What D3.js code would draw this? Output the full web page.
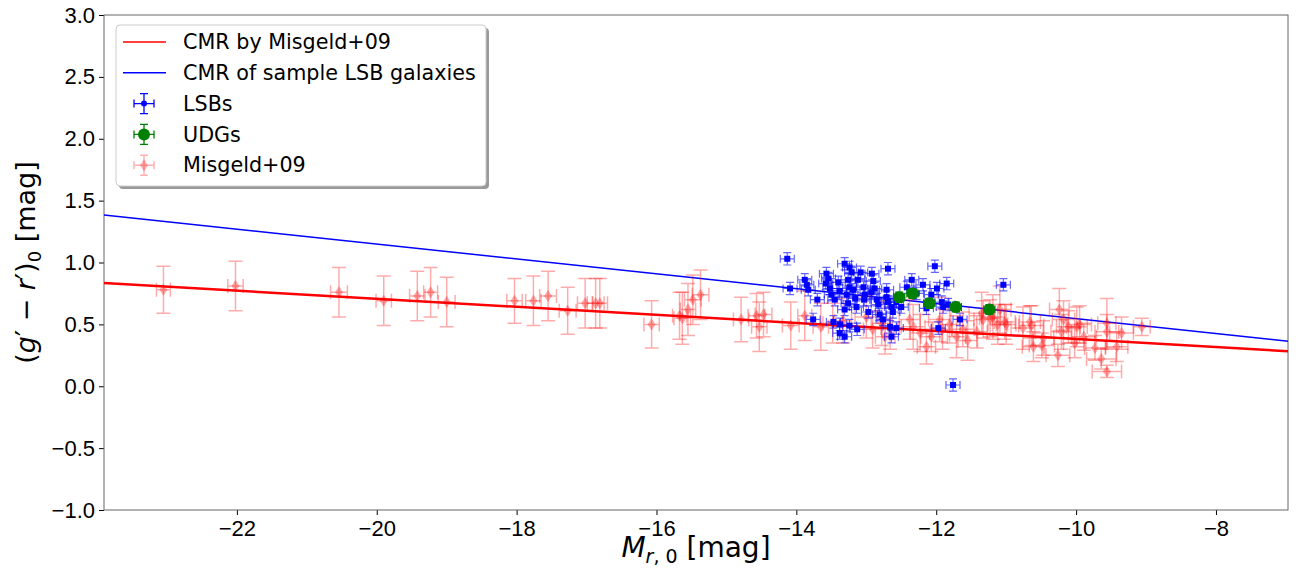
<!DOCTYPE html>
<html>
<head>
<meta charset="utf-8">
<script src="https://cdn.jsdelivr.net/npm/d3@7"></script>
<style>
  body { margin: 0; background: #fff; }
  svg { font-family: "DejaVu Sans", sans-serif; }
</style>
</head>
<body>
<svg id="chart"></svg>
<script>
var width = 1303,
  height = 568;

// Misgeld+09 sample
var misX = [-23.05, -22.02, -20.54, -19.90, -19.42, -19.23, -19.00, -18.03, -17.76, -17.55, -17.27, -17.02, -16.87, -16.81, -16.07, -15.67, -15.63, -15.55, -15.48, -15.37, -14.79, -14.57, -14.53, -14.47, -14.08, -13.88, -13.65,
  -13.48, -13.33, -13.00, -12.91, -12.78, -12.73, -12.66, -12.38, -12.33, -12.23, -12.14, -12.07, -11.95, -11.91, -11.81, -11.71, -11.62, -11.55, -11.42, -11.33, -11.19, -11.12, -11.02, -11.35, -11.23, -11.09, -11.00,
  -10.76, -10.66, -10.64, -10.61, -10.49, -10.47, -10.26, -10.24, -10.18, -10.21, -10.11, -10.02, -9.99, -9.95, -9.89, -9.73, -9.64, -9.56, -9.56, -9.56, -9.42, -9.35, -9.06];
var misY = [0.78, 0.81, 0.76, 0.69, 0.73, 0.76, 0.68, 0.69, 0.69, 0.73, 0.61, 0.67, 0.67, 0.67, 0.50, 0.57, 0.55, 0.62, 0.70, 0.74, 0.54, 0.57, 0.48, 0.58, 0.49, 0.57, 0.48,
  0.51, 0.53, 0.56, 0.46, 0.51, 0.40, 0.47, 0.54, 0.48, 0.43, 0.32, 0.40, 0.54, 0.46, 0.50, 0.40, 0.46, 0.37, 0.44, 0.54, 0.56, 0.50, 0.52, 0.59, 0.55, 0.62, 0.50,
  0.47, 0.52, 0.49, 0.32, 0.33, 0.39, 0.25, 0.62, 0.54, 0.44, 0.48, 0.35, 0.48, 0.50, 0.40, 0.31, 0.22, 0.51, 0.44, 0.12, 0.32, 0.43, 0.48];
var misXErr = [0.10, 0.11, 0.12, 0.11, 0.11, 0.10, 0.12, 0.11, 0.11, 0.12, 0.12, 0.11, 0.12, 0.11, 0.11, 0.10, 0.12, 0.11, 0.12, 0.12, 0.11, 0.12, 0.11, 0.12, 0.12, 0.10, 0.11,
  0.14, 0.12, 0.16, 0.13, 0.15, 0.14, 0.13, 0.15, 0.17, 0.14, 0.13, 0.15, 0.16, 0.14, 0.15, 0.13, 0.16, 0.14, 0.15, 0.13, 0.16, 0.14, 0.15, 0.18, 0.15, 0.16, 0.14,
  0.17, 0.15, 0.18, 0.16, 0.18, 0.15, 0.17, 0.14, 0.16, 0.15, 0.17, 0.16, 0.15, 0.17, 0.18, 0.15, 0.21, 0.13, 0.17, 0.21, 0.16, 0.17, 0.12];
var misYErr = [0.19, 0.20, 0.20, 0.20, 0.20, 0.20, 0.20, 0.18, 0.20, 0.20, 0.19, 0.20, 0.20, 0.20, 0.19, 0.19, 0.21, 0.21, 0.20, 0.20, 0.18, 0.18, 0.20, 0.18, 0.19, 0.20, 0.19,
  0.16, 0.18, 0.17, 0.15, 0.18, 0.14, 0.17, 0.16, 0.18, 0.15, 0.14, 0.12, 0.18, 0.16, 0.15, 0.17, 0.14, 0.16, 0.13, 0.15, 0.18, 0.16, 0.14, 0.17, 0.15, 0.19, 0.16,
  0.17, 0.13, 0.16, 0.12, 0.10, 0.14, 0.09, 0.17, 0.15, 0.14, 0.13, 0.12, 0.16, 0.15, 0.11, 0.10, 0.08, 0.20, 0.14, 0.05, 0.12, 0.13, 0.07];

// sample LSB galaxies
var lsbX = [-14.13, -14.09, -13.88, -13.85, -13.83, -13.76, -13.57, -13.54, -13.58, -13.52, -13.50, -13.45, -13.40, -13.38, -13.47, -13.38, -13.38, -13.31, -13.31, -13.24,
  -13.21, -13.26, -13.24, -13.28, -13.26, -13.24, -13.19, -13.16, -13.14, -13.13, -13.12, -13.04, -13.02, -12.97, -12.92, -12.90, -12.88, -12.85, -12.83, -12.81,
  -12.76, -12.71, -12.71, -12.69, -12.69, -12.64, -12.66, -12.62, -12.64, -12.57, -12.57, -12.50, -12.42, -12.35, -12.28, -12.19, -12.14, -12.07, -12.02, -11.99,
  -11.97, -11.92, -11.90, -11.85, -11.83, -11.66, -11.76, -11.04, -13.70, -13.03, -12.93, -13.08, -13.31];
var lsbY = [1.03, 0.79, 0.86, 0.82, 0.78, 0.54, 0.91, 0.87, 0.83, 0.79, 0.74, 0.70, 0.84, 0.77, 0.52, 0.50, 0.43, 0.40, 0.99, 0.96,
  0.92, 0.86, 0.80, 0.74, 0.67, 0.49, 0.78, 0.71, 0.64, 0.46, 0.86, 0.80, 0.74, 0.60, 0.91, 0.85, 0.79, 0.70, 0.66, 0.58,
  0.54, 0.78, 0.72, 0.95, 0.68, 0.64, 0.48, 0.60, 0.40, 0.47, 0.68, 0.64, 0.80, 0.86, 0.75, 0.82, 0.63, 0.74, 0.97, 0.79,
  0.47, 0.68, 0.64, 0.83, 0.66, 0.54, 0.01, 0.82, 0.70, 0.70, 0.76, 0.92, 0.62];
var lsbXErr = 0.1,
  lsbYErr = 0.05;

// UDGs
var udgX = [-12.53, -12.34, -12.10, -11.72, -11.24];
var udgY = [0.72, 0.75, 0.67, 0.64, 0.62];
var udgXErr = 0.08,
  udgYErr = 0.04;

// colour-magnitude relations: colour = intercept + slope * M
var cmrMisgeld = { slope: -0.0325, intercept: 0.057 };
var cmrLsb = { slope: -0.0602, intercept: -0.055 };

var xTicks = [-22, -20, -18, -16, -14, -12, -10, -8];
var yTicks = [-1.0, -0.5, 0.0, 0.5, 1.0, 1.5, 2.0, 2.5, 3.0];

var legendItems = [
  { label: 'CMR by Misgeld+09', type: 'line', color: 'red' },
  { label: 'CMR of sample LSB galaxies', type: 'line', color: 'blue' },
  { label: 'LSBs', type: 'lsb' },
  { label: 'UDGs', type: 'udg' },
  { label: 'Misgeld+09', type: 'mis' }
];

var margin = { left: 104, right: 15, top: 15, bottom: 58 };

var x = d3.scaleLinear()
  .domain([-23.9, -6.97])
  .range([margin.left, width - margin.right]);

var y = d3.scaleLinear()
  .domain([-1, 3])
  .range([height - margin.bottom, margin.top]);

var svg = d3.select('#chart')
  .attr('width', width)
  .attr('height', height);

var minus = function(s) { return s.replace('-', '\u2212'); };

// axes
svg.append('g')
  .attr('transform', 'translate(0,' + y.range()[0] + ')')
  .call(d3.axisBottom(x).tickValues(xTicks).tickSize(5).tickPadding(5)
    .tickFormat(function(d) { return minus(String(d)); }))
  .call(function(g) {
    g.select('.domain').remove();
    g.selectAll('text').attr('font-size', 22).attr('fill', '#000');
  });

svg.append('g')
  .attr('transform', 'translate(' + x.range()[0] + ',0)')
  .call(d3.axisLeft(y).tickValues(yTicks).tickSize(5).tickPadding(4)
    .tickFormat(function(d) { return minus(d3.format('.1f')(d)); }))
  .call(function(g) {
    g.select('.domain').remove();
    g.selectAll('text').attr('font-size', 22).attr('fill', '#000');
  });

svg.append('rect')
  .attr('x', x.range()[0])
  .attr('y', y.range()[1])
  .attr('width', x.range()[1] - x.range()[0])
  .attr('height', y.range()[0] - y.range()[1])
  .attr('fill', 'none')
  .attr('stroke', '#666')
  .attr('stroke-width', 1);

var plot = svg.append('g');

// CMR lines
function cmrLine(c, color, w) {
  var xs = x.domain();
  plot.append('line')
    .attr('x1', x(xs[0])).attr('y1', y(c.intercept + c.slope * xs[0]))
    .attr('x2', x(xs[1])).attr('y2', y(c.intercept + c.slope * xs[1]))
    .attr('stroke', color)
    .attr('stroke-width', w);
}
cmrLine(cmrMisgeld, 'red', 2.5);
cmrLine(cmrLsb, 'blue', 1.5);

// error bars with caps
function errorBars(g, px, py, ex, ey, cap) {
  var p = '';
  p += 'M' + (px - ex) + ',' + py + 'H' + (px + ex);
  p += 'M' + px + ',' + (py - ey) + 'V' + (py + ey);
  p += 'M' + (px - cap) + ',' + (py - ey) + 'H' + (px + cap);
  p += 'M' + (px - cap) + ',' + (py + ey) + 'H' + (px + cap);
  p += 'M' + (px - ex) + ',' + (py - cap) + 'V' + (py + cap);
  p += 'M' + (px + ex) + ',' + (py - cap) + 'V' + (py + cap);
  return g.append('path').attr('d', p).attr('fill', 'none');
}

function diamond(g, px, py) {
  return g.append('path')
    .attr('d', 'M' + px + ',' + (py - 6) + 'L' + (px + 4) + ',' + py + 'L' + px + ',' + (py + 6) + 'L' + (px - 4) + ',' + py + 'Z');
}

// Misgeld+09 points
var misData = misX.map(function(d, i) {
  return { x: d, y: misY[i], ex: misXErr[i], ey: misYErr[i] };
});
var misG = plot.append('g');
misData.forEach(function(d) {
  var px = x(d.x), py = y(d.y);
  errorBars(misG, px, py, x(d.x + d.ex) - px, py - y(d.y + d.ey), 7)
    .attr('stroke', 'red').attr('stroke-opacity', 0.33).attr('stroke-width', 1.5);
  diamond(misG, px, py).attr('fill', 'red').attr('fill-opacity', 0.33);
});

// LSB points
var lsbG = plot.append('g');
lsbX.forEach(function(d, i) {
  var px = x(d), py = y(lsbY[i]);
  errorBars(lsbG, px, py, x(d + lsbXErr) - px, py - y(lsbY[i] + lsbYErr), 4)
    .attr('stroke', 'blue').attr('stroke-opacity', 0.6).attr('stroke-width', 1.2);
  lsbG.append('rect')
    .attr('x', px - 3).attr('y', py - 3)
    .attr('width', 6).attr('height', 6)
    .attr('fill', 'blue');
});

// UDG points
var udgG = plot.append('g');
udgX.forEach(function(d, i) {
  var px = x(d), py = y(udgY[i]);
  errorBars(udgG, px, py, x(d + udgXErr) - px, py - y(udgY[i] + udgYErr), 4)
    .attr('stroke', 'green').attr('stroke-width', 1.2);
  udgG.append('circle')
    .attr('cx', px).attr('cy', py).attr('r', 6)
    .attr('fill', 'green');
});

// legend
var lg = svg.append('g').attr('transform', 'translate(116,25)');
lg.append('rect')
  .attr('x', 3).attr('y', 3)
  .attr('width', 370).attr('height', 161)
  .attr('rx', 4)
  .attr('fill', '#999');
lg.append('rect')
  .attr('width', 370).attr('height', 161)
  .attr('rx', 4)
  .attr('fill', '#fff')
  .attr('stroke', '#ccc');

legendItems.forEach(function(item, i) {
  var cy = 17 + i * 30.8;
  var row = lg.append('g');
  if (item.type === 'line') {
    row.append('line')
      .attr('x1', 7).attr('x2', 50)
      .attr('y1', cy).attr('y2', cy)
      .attr('stroke', item.color).attr('stroke-width', 1.6);
  } else if (item.type === 'lsb') {
    errorBars(row, 28, cy, 10, 10, 4).attr('stroke', 'blue').attr('stroke-width', 1.3);
    row.append('circle').attr('cx', 28).attr('cy', cy).attr('r', 3).attr('fill', 'blue');
  } else if (item.type === 'udg') {
    errorBars(row, 28, cy, 10, 10, 4).attr('stroke', 'green').attr('stroke-width', 1.3);
    row.append('circle').attr('cx', 28).attr('cy', cy).attr('r', 6).attr('fill', 'green');
  } else {
    errorBars(row, 28, cy, 10, 10, 4).attr('stroke', 'red').attr('stroke-opacity', 0.3).attr('stroke-width', 1.5);
    diamond(row, 28, cy).attr('fill', 'red').attr('fill-opacity', 0.3);
  }
  row.append('text')
    .attr('x', 67).attr('y', cy)
    .attr('dy', '0.35em')
    .attr('font-size', 20.7)
    .text(item.label);
});

// axis labels
var xl = svg.append('text')
  .attr('x', (x.range()[0] + x.range()[1]) / 2)
  .attr('y', 557)
  .attr('text-anchor', 'middle')
  .attr('font-size', 28);
xl.append('tspan').attr('font-style', 'italic').text('M');
xl.append('tspan').attr('font-size', 19).attr('dy', 6).attr('font-style', 'italic').text('r');
xl.append('tspan').attr('font-size', 19).text(', 0');
xl.append('tspan').attr('dy', -6).text(' [mag]');

var yl = svg.append('text')
  .attr('transform', 'translate(35,' + y(1) + ') rotate(-90)')
  .attr('text-anchor', 'middle')
  .attr('font-size', 27);
yl.append('tspan').text('(');
yl.append('tspan').attr('font-style', 'italic').text('g');
yl.append('tspan').text('\u2032 \u2212 ');
yl.append('tspan').attr('font-style', 'italic').text('r');
yl.append('tspan').text('\u2032)');
yl.append('tspan').attr('font-size', 18).attr('dy', 6).text('0');
yl.append('tspan').attr('dy', -6).text(' [mag]');
</script>
</body>
</html>
